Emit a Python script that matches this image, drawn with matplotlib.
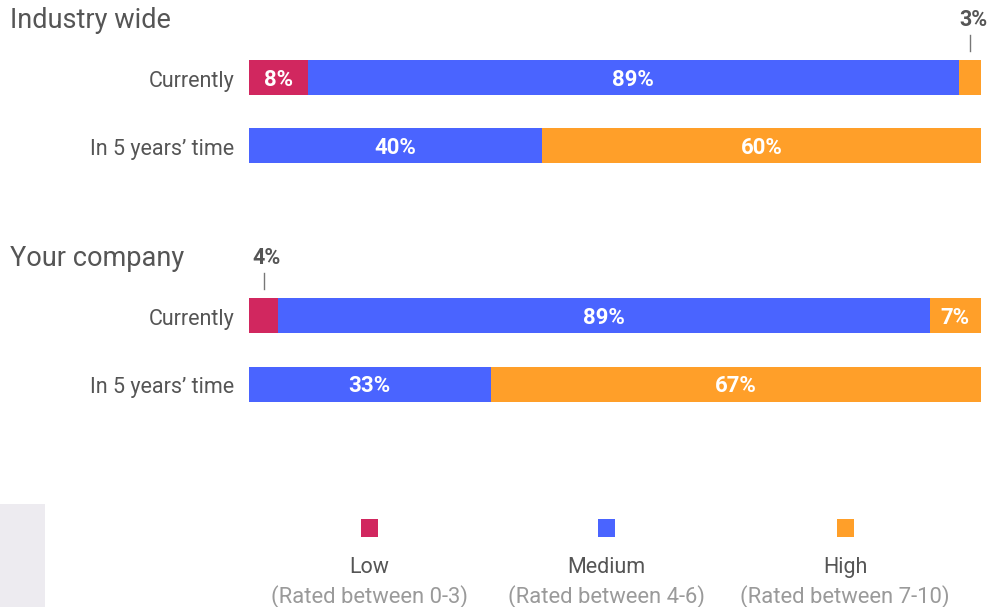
import matplotlib.pyplot as plt
from matplotlib.patches import Rectangle

# ---------------------------------------------------------------------- DATA
groups = ['Industry wide', 'Your company']
rows = ['Currently', 'In 5 years\u2019 time']
levels = ['Low', 'Medium', 'High']
level_notes = ['(Rated between 0-3)', '(Rated between 4-6)', '(Rated between 7-10)']
industry = [[8, 89, 3], [0, 40, 60]]
company = [[4, 89, 7], [0, 33, 67]]

colors = ['#d1275f', '#4a64ff', '#ff9f29']
dark = '#555555'
light = '#9a9a9a'

plt.rcParams['font.family'] = ['Roboto', 'DejaVu Sans']

W, H = 989, 607
fig = plt.figure(figsize=(W / 100, H / 100), dpi=100)

# bar axes: x in percent, y in pixel rows from the top
ax = fig.add_axes([249 / W, 0, 732 / W, 1])
ax.set_xlim(0, 100)
ax.set_ylim(H, 0)
ax.axis('off')

row_y = [[77.5, 145.5], [315.5, 384.5]]
title_base = [28, 266.5]
bar_h = 35

for g, (name, data) in enumerate(zip(groups, [industry, company])):
    fig.text(10 / W, 1 - title_base[g] / H, name, fontsize=19.5, color=dark,
             ha='left', va='baseline')
    for r, vals in enumerate(data):
        y = row_y[g][r]
        ax.text(-2.0, y + 9, rows[r], fontsize=15.5, color=dark,
                ha='right', va='baseline')
        left = 0
        for k, v in enumerate(vals):
            if v == 0:
                continue
            ax.barh(y, v, left=left, height=bar_h, color=colors[k],
                    edgecolor='none')
            cx = left + v / 2
            if v >= 5:
                ax.text(cx, y + 8, f'{v}%', fontsize=16, color='white',
                        fontweight='bold', ha='center', va='baseline')
            else:
                # small segment: label above with a leader line
                ax.plot([cx, cx], [y - 43, y - 27], color='#777777', lw=1)
                ax.text(cx + 0.4, y - 52, f'{v}%', fontsize=15.5,
                        color=dark, fontweight='bold',
                        ha='center', va='baseline')
            left += v

# legend
fig.patches.append(Rectangle((0, 0), 45 / W, 103 / H,
                             transform=fig.transFigure,
                             facecolor='#edebf0', edgecolor='none'))
legend_x = [369, 606, 845]
for k in range(3):
    x = legend_x[k]
    fig.patches.append(Rectangle(((x - 8.5) / W, 1 - 537 / H), 17 / W, 18 / H,
                                 transform=fig.transFigure,
                                 facecolor=colors[k], edgecolor='none'))
    fig.text(x / W, 1 - 573 / H, levels[k], fontsize=15.5, color=dark,
             ha='center', va='baseline')
    fig.text(x / W, 1 - 603 / H, level_notes[k], fontsize=15.8, color=light,
             ha='center', va='baseline')

fig.savefig('out.png', dpi=100)
